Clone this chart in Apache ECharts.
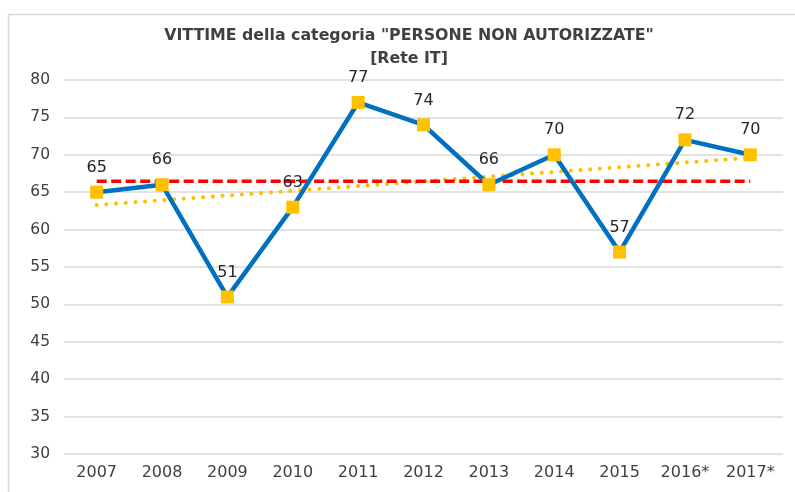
<!DOCTYPE html>
<html>
<head>
<meta charset="utf-8">
<script src="https://cdn.jsdelivr.net/npm/echarts@6/dist/echarts.min.js"></script>
<style>
  html, body { margin: 0; padding: 0; background: #fff; }
  #chart { width: 795px; height: 492px; }
</style>
</head>
<body>
<div id="chart"></div>
<script>
// anni (2016 e 2017 provvisori)
const years = ['2007', '2008', '2009', '2010', '2011', '2012', '2013', '2014', '2015', '2016*', '2017*']
// vittime persone non autorizzate
const victims = [65, 66, 51, 63, 77, 74, 66, 70, 57, 72, 70]
// media del periodo (linea rossa)
const mean = [66.45, null, null, null, null, null, null, null, null, null, 66.45]
// tendenza lineare (linea gialla puntinata)
const trend = [63.3, null, null, null, null, null, null, null, null, null, 69.6]

const font = 'DejaVu Sans'

let chart = echarts.init(document.getElementById('chart'))
chart.setOption({
  animation: false,
  graphic: [{
    type: 'rect',
    shape: { x: 8.5, y: 14.5, width: 800, height: 500 },
    style: { fill: 'none', stroke: '#d9d9d9', lineWidth: 1.5 },
    silent: true
  }],
  title: {
    text: 'VITTIME della categoria "PERSONE NON AUTORIZZATE"\n[Rete IT]',
    left: 404,
    top: 19,
    textAlign: 'center',
    textStyle: {
      fontFamily: font,
      fontSize: 15.8,
      fontWeight: 'bold',
      color: '#404040',
      lineHeight: 23
    }
  },
  grid: {
    left: 64,
    right: 12,
    top: 80,
    bottom: 38,
    containLabel: false
  },
  xAxis: {
    type: 'category',
    data: years,
    boundaryGap: true,
    axisLine: { show: false },
    axisTick: { show: false },
    axisLabel: {
      interval: 0,
      margin: 11,
      color: '#404040',
      fontFamily: font,
      fontSize: 16
    }
  },
  yAxis: {
    type: 'value',
    min: 30,
    max: 80,
    interval: 5,
    axisLine: { show: false },
    axisTick: { show: false },
    axisLabel: {
      margin: 14,
      color: '#404040',
      fontFamily: font,
      fontSize: 15.5
    },
    splitLine: {
      lineStyle: { color: '#d9d9d9', width: 1.5 }
    }
  },
  series: [
    {
      name: 'media',
      type: 'line',
      data: mean,
      connectNulls: true,
      symbol: 'none',
      z: 3,
      lineStyle: { color: '#ff0000', width: 3.5, type: [10, 4.5] }
    },
    {
      name: 'tendenza',
      type: 'line',
      data: trend,
      connectNulls: true,
      symbol: 'none',
      z: 2,
      lineStyle: { color: '#ffc000', width: 4, type: [0.1, 9.6], cap: 'round' }
    },
    {
      name: 'vittime',
      type: 'line',
      data: victims,
      symbol: 'rect',
      symbolSize: 13,
      z: 4,
      lineStyle: { color: '#0070c0', width: 4.5 },
      itemStyle: { color: '#ffc000' },
      label: {
        show: true,
        position: 'top',
        distance: 10,
        color: '#262626',
        fontFamily: font,
        fontSize: 16
      }
    }
  ]
})
</script>
</body>
</html>
